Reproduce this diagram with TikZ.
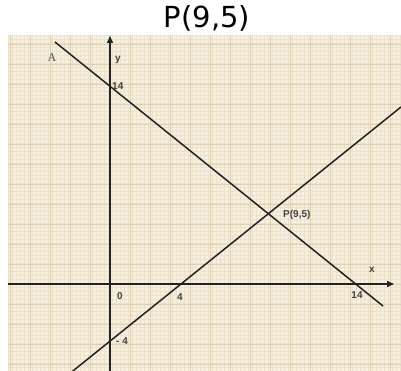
\documentclass[tikz,border=0pt]{standalone}
\usepackage{fontspec}
\setmainfont{Liberation Sans}
\newfontfamily\titlefont{DejaVu Sans}
\newfontfamily\serifA{Liberation Serif}
\usetikzlibrary{arrows.meta}
\definecolor{paper}{HTML}{F7F0E0}
\definecolor{minorg}{HTML}{EDE3CD}
\definecolor{majorg}{HTML}{DDD0B6}
\definecolor{ink}{HTML}{222222}
\tikzset{
  lbl/.style={font=\bfseries\fontsize{10}{11}\selectfont, text=ink!85, inner sep=0pt},
  axis/.style={draw=ink, line width=1.5pt, -{Triangle[length=7pt,width=6pt]}},
  gline/.style={draw=ink, line width=1.5pt}
}
\begin{document}
\begin{tikzpicture}[x=1pt,y=-1pt]
\useasboundingbox (0,0) rectangle (401,371);
\fill[white] (0,0) rectangle (401,371);
\node[font=\titlefont\fontsize{29}{31}\selectfont, inner sep=0pt, anchor=base] (title) at (207,28) {P(9,5)};
\fill[paper] (8,35) rectangle (401,371);
\begin{scope}
\clip (8,35) rectangle (401,371);
\foreach \i in {0,...,100} {
  \draw[minorg, line width=0.4pt] ({8+4*\i},35) -- ({8+4*\i},371);
  \draw[minorg, line width=0.4pt] (8,{35+4*\i}) -- (401,{35+4*\i});
}
\foreach \i in {0,...,20} {
  \draw[majorg, line width=0.8pt] ({10+20*\i},35) -- ({10+20*\i},371);
  \draw[majorg, line width=0.8pt] (8,{44+20*\i}) -- (401,{44+20*\i});
}
\end{scope}
\coordinate (xs) at (8,284);
\coordinate (xe) at (394,284);
\coordinate (ys) at (110,371);
\coordinate (ye) at (110,36);
\coordinate (A1) at (55,42);
\coordinate (A2) at (383,306);
\coordinate (B1) at (72,371.7);
\coordinate (B2) at (401,107);
\draw[axis] (xs) -- (xe);
\draw[axis] (ys) -- (ye);
\draw[gline] (A1) -- (A2);
\draw[gline] (B1) -- (B2);
\node[font=\serifA\fontsize{12}{13}\selectfont, text=ink!80, inner sep=0pt] (lA) at (52,58) {A};
\node[lbl] (ly) at (118,60) {y};
\node[lbl, anchor=west] (l14y) at (112,86) {14};
\node[lbl] (l0) at (120,296) {0};
\node[lbl] (l4) at (180,297) {4};
\node[lbl] (l14x) at (357,295) {14};
\node[lbl, anchor=west] (lm4) at (116,341) {- 4};
\node[lbl] (lx) at (372,270) {x};
\node[lbl, anchor=west] (lP) at (283,215) {P(9,5)};
\end{tikzpicture}
\end{document}
